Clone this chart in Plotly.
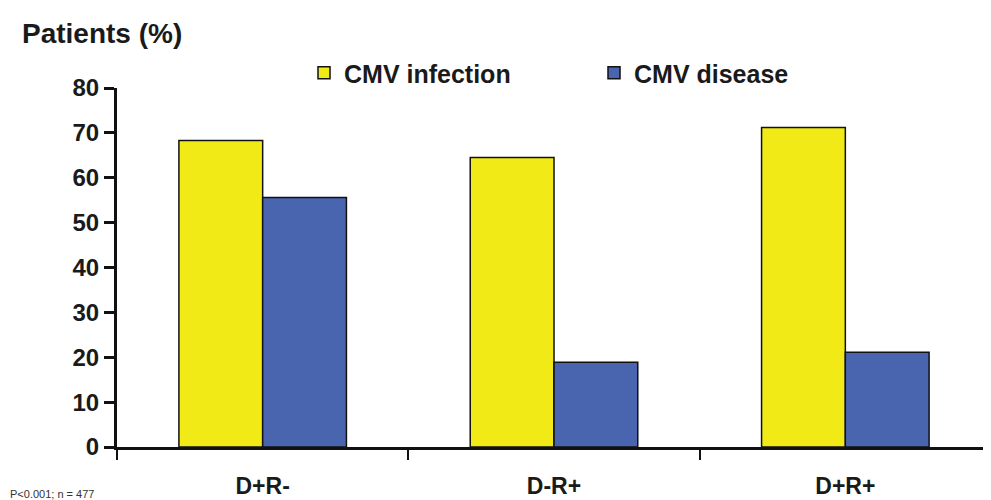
import plotly.graph_objects as go

categories = ["D+R-", "D-R+", "D+R+"]
cmv_infection = [68.3, 64.5, 71.2]
cmv_disease = [55.6, 18.9, 21.1]
y_ticks = [0, 10, 20, 30, 40, 50, 60, 70, 80]

FONT = "Liberation Sans, Arial, sans-serif"

# page body has an 8px margin, so the figure is shrunk/shifted accordingly
W, H = 983, 492
L, T, B = 109, 80, 53
PW, PH = W - L, H - T - B  # 874 x 359

def px_x(x):  # page pixel -> paper x
    return (x - 8 - L) / PW

def px_y(y):  # page pixel -> paper y
    return (T + PH - (y - 8)) / PH

fig = go.Figure()
fig.add_trace(go.Bar(
    x=categories, y=cmv_infection, name="CMV infection",
    marker=dict(color="#F2EA17", line=dict(color="#111111", width=1.5)),
))
fig.add_trace(go.Bar(
    x=categories, y=cmv_disease, name="CMV disease",
    marker=dict(color="#4965AF", line=dict(color="#111111", width=1.5)),
))

fig.update_layout(
    width=W, height=H,
    margin=dict(l=L, r=0, t=T, b=B, autoexpand=False),
    paper_bgcolor="white", plot_bgcolor="white",
    barmode="group", bargap=0.425, bargroupgap=0,
    font=dict(family=FONT, color="#1a1a1a"),
    showlegend=True,
    legend=dict(
        orientation="h", x=px_x(304), y=px_y(73), xanchor="left", yanchor="middle",
        font=dict(family=FONT, size=25, color="#1a1a1a", weight="bold"),
        entrywidth=245, entrywidthmode="pixels",
        itemwidth=30, bgcolor="rgba(0,0,0,0)",
    ),
    xaxis=dict(
        type="category", range=[-0.5, 2.5], automargin=False,
        showline=True, linecolor="#111111", linewidth=3,
        ticks="outside", tickson="boundaries", ticklen=10, tickwidth=2, tickcolor="#111111",
        ticklabelstandoff=16,
        tickfont=dict(family=FONT, size=23, color="#1a1a1a", weight="bold"),
        showgrid=False, zeroline=False,
    ),
    yaxis=dict(
        range=[0, 80], tickvals=y_ticks, automargin=False,
        showline=True, linecolor="#111111", linewidth=3,
        ticks="outside", ticklen=10, tickwidth=3, tickcolor="#111111",
        tickfont=dict(family=FONT, size=24, color="#1a1a1a", weight="bold"),
        showgrid=False, zeroline=False,
    ),
)

fig.add_annotation(
    text="Patients (%)", xref="paper", yref="paper",
    x=px_x(20), y=px_y(33), xanchor="left", yanchor="middle",
    showarrow=False, font=dict(family=FONT, size=28, color="#1a1a1a", weight="bold"),
)
fig.add_annotation(
    text="P<0.001; n = 477", xref="paper", yref="paper",
    x=px_x(8), y=px_y(486), xanchor="left", yanchor="top",
    showarrow=False, font=dict(family=FONT, size=11, color="#333333"),
)

fig.write_html("out.html")
